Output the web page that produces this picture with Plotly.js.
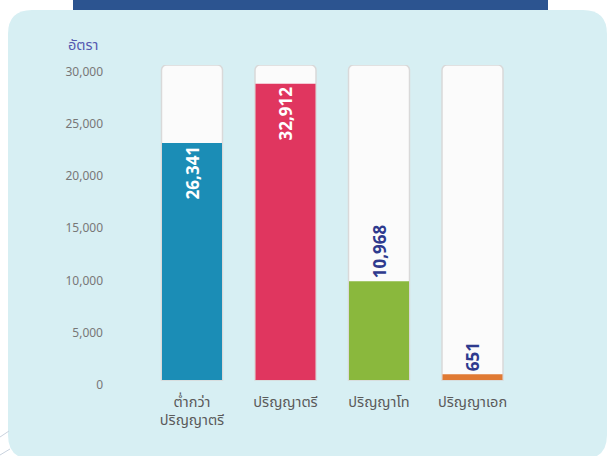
<!DOCTYPE html>
<html>
<head>
<meta charset="utf-8">
<script src="https://cdn.plot.ly/plotly-3.0.1.min.js"></script>
<style>html,body{margin:0;padding:0;background:#fff;}#chart{width:607px;height:456px;}</style>
</head>
<body>
<div id="chart"></div>
<script>
// ---- data ----
const categories = ['ต่ำกว่า<br>ปริญญาตรี', 'ปริญญาตรี', 'ปริญญาโท', 'ปริญญาเอก'];
const values = [26341, 32912, 10968, 651];
const valueLabels = ['26,341', '32,912', '10,968', '651'];
const barColors = ['#1b8db6', '#e0365f', '#8ab83d', '#e07a34'];
const labelColors = ['#ffffff', '#ffffff', '#2e3a8e', '#2e3a8e'];
const labelPositions = ['inside', 'inside', 'outside', 'outside'];
const trackMax = 35000;
const trackValues = [trackMax, trackMax, trackMax, trackMax];
const yTickVals = [0, 5000, 10000, 15000, 20000, 25000, 30000];
const yTickText = ['0', '5,000', '10,000', '15,000', '20,000', '25,000', '30,000'];
const axisTitle = 'อัตรา';

// ---- layout geometry ----
const W = 607, H = 456;
const ml = 104, mr = 47, mt = 65, mb = 70;
const pw = W - ml - mr, ph = H - mt - mb;
const catStep = 93.5;           // px per category
const firstCenter = 192;        // px
const xr0 = -(firstCenter - ml) / catStep;
const xr1 = xr0 + pw / catStep;
const yBottomPx = H - mb;
// tick axis: 0 at 384.5px, 30000 at 72px
const tickPerPx = 30000 / (384.5 - 72);
const yr0 = -(yBottomPx - 384.5) * tickPerPx;
const yr1 = (384.5 - mt) * tickPerPx;
// bar axis: 0 at 380px, trackMax at top of plot
const barPerPx = trackMax / (380 - mt);
const y2r0 = -(yBottomPx - 380) * barPerPx;

const px = v => (v - ml) / pw;
const py = v => (yBottomPx - v) / ph;

function roundRect(x0, y0, x1, y1, r) {
  const X0 = px(x0), X1 = px(x1), Y0 = py(y0), Y1 = py(y1);
  const rx = r / pw, ry = r / ph;
  return `M ${X0 + rx},${Y0} L ${X1 - rx},${Y0} Q ${X1},${Y0} ${X1},${Y0 - ry} ` +
         `L ${X1},${Y1 + ry} Q ${X1},${Y1} ${X1 - rx},${Y1} L ${X0 + rx},${Y1} ` +
         `Q ${X0},${Y1} ${X0},${Y1 + ry} L ${X0},${Y0 - ry} Q ${X0},${Y0} ${X0 + rx},${Y0} Z`;
}

const fontFam = '"Noto Sans Thai", "Noto Sans", Roboto, sans-serif';
const numFont = '"Open Sans", sans-serif';

const track = {
  type: 'bar', x: categories, y: trackValues, yaxis: 'y2',
  width: 61 / catStep,
  marker: { color: '#fbfbfb', line: { color: '#d9d9d9', width: 1.5 }, cornerradius: 5 },
  hoverinfo: 'skip', showlegend: false
};
const bars = {
  type: 'bar', x: categories, y: values, yaxis: 'y2',
  width: 60 / catStep,
  marker: { color: barColors, cornerradius: 4 },
  text: valueLabels,
  textposition: labelPositions,
  insidetextanchor: 'end',
  textangle: -90,
  constraintext: 'none',
  cliponaxis: false,
  textfont: { family: numFont, size: 17, color: labelColors, weight: 700 },
  insidetextfont: { family: numFont, size: 17, color: labelColors, weight: 700 },
  outsidetextfont: { family: numFont, size: 17, color: labelColors, weight: 700 },
  hoverinfo: 'skip', showlegend: false
};
// invisible carrier for the tick axis
const tickCarrier = {
  type: 'scatter', x: [categories[0]], y: [0], mode: 'markers',
  marker: { opacity: 0 }, hoverinfo: 'skip', showlegend: false
};

const layout = {
  width: W, height: H,
  margin: { l: ml, r: mr, t: mt, b: mb, pad: 0 },
  paper_bgcolor: '#ffffff', plot_bgcolor: 'rgba(0,0,0,0)',
  barmode: 'overlay', barcornerradius: 5,
  font: { family: fontFam, color: '#555' },
  xaxis: {
    type: 'category', range: [xr0, xr1], showgrid: false, zeroline: false,
    showline: false, ticks: '', ticklabelstandoff: 5,
    tickfont: { family: fontFam, size: 14.5, color: '#5a5a5a' },
    fixedrange: true
  },
  yaxis: {
    range: [yr0, yr1], tickvals: yTickVals, ticktext: yTickText,
    showgrid: false, zeroline: false, showline: false, ticks: '',
    tickfont: { family: fontFam, size: 12, color: '#777777' }, fixedrange: true
  },
  yaxis2: {
    range: [y2r0, trackMax], overlaying: 'y', visible: false, fixedrange: true
  },
  shapes: [
    { type: 'path', xref: 'paper', yref: 'paper', layer: 'below',
      path: roundRect(8, 10, 607, 459, 24), fillcolor: '#d7eff3', line: { width: 0 } },
    { type: 'rect', xref: 'paper', yref: 'paper', layer: 'below',
      x0: px(73), x1: px(548), y0: py(0), y1: py(10), fillcolor: '#2c5490', line: { width: 0 } },
    { type: 'line', xref: 'paper', yref: 'paper', layer: 'below',
      x0: px(0), y0: py(437), x1: px(9), y1: py(431), line: { color: '#c9d2de', width: 1 } },
    { type: 'line', xref: 'paper', yref: 'paper', layer: 'below',
      x0: px(0), y0: py(455), x1: px(10), y1: py(449), line: { color: '#c9d2de', width: 1 } }
  ],
  annotations: [
    { text: axisTitle, xref: 'paper', yref: 'paper', x: px(101), y: py(46),
      xanchor: 'right', yanchor: 'middle', showarrow: false,
      font: { family: fontFam, size: 14.5, color: '#5559b0' } }
  ]
};

Plotly.newPlot('chart', [tickCarrier, track, bars], layout, { displayModeBar: false, staticPlot: true });
</script>
</body>
</html>
